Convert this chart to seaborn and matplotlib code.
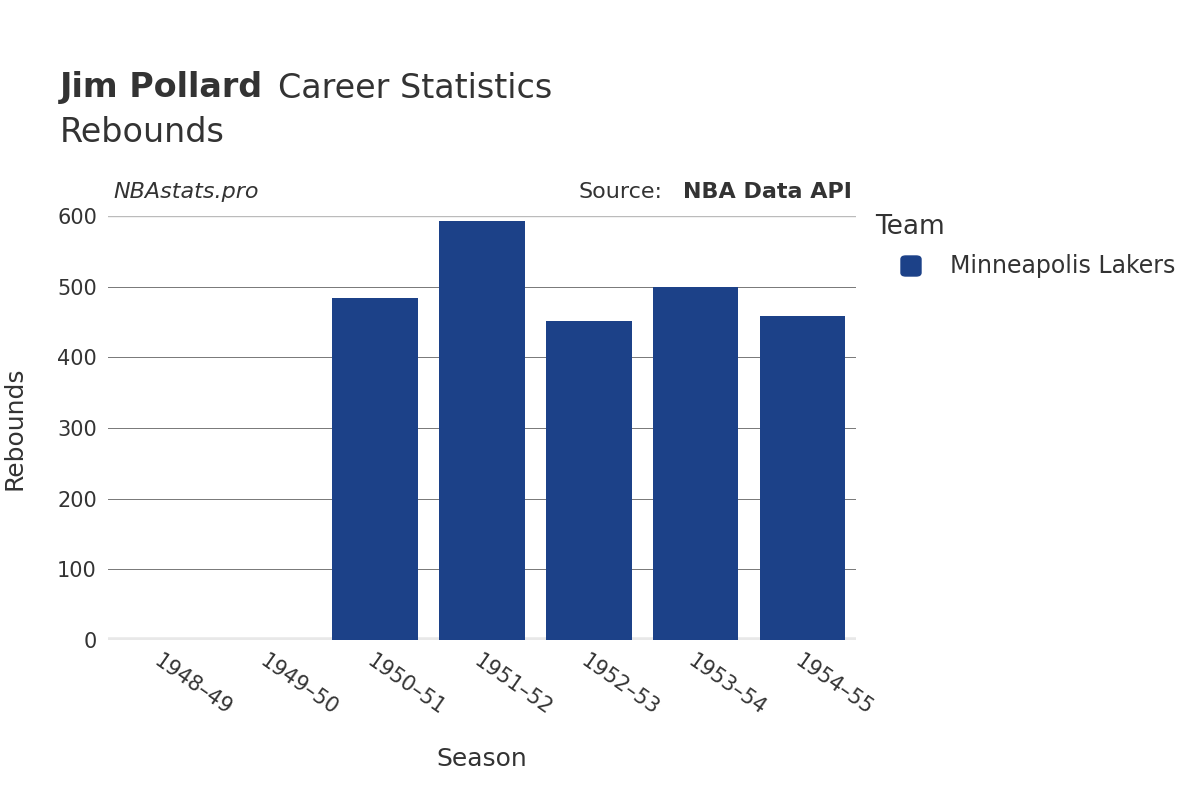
import matplotlib
matplotlib.use("Agg")
import matplotlib.pyplot as plt
import seaborn as sns
import pandas as pd

seasons = ["1948–49", "1949–50", "1950–51", "1951–52", "1952–53", "1953–54", "1954–55"]
rebounds = [0, 0, 484, 593, 452, 500, 458]
teams = ["Minneapolis Lakers"] * 7
yticks = [0, 100, 200, 300, 400, 500, 600]

df = pd.DataFrame({"Season": seasons, "Rebounds": rebounds, "Team": teams})

fig = plt.figure(figsize=(12, 8), dpi=100)
ax = fig.add_axes([108/1200, 1-640/800, (856-108)/1200, (640-216)/800])
sns.barplot(data=df, x="Season", y="Rebounds", hue="Team", palette=["#1c4188"],
            width=0.8, ax=ax, legend=False, saturation=1)
ax.set_ylim(0, 600)
ax.set_xlim(-0.5, 6.5)
ax.set_yticks(yticks)
for y in yticks[1:]:
    ax.axhline(y, color="#bbbbbb" if y == 600 else "#777777", lw=1 if y == 600 else 0.7, zorder=0)
ax.axhline(0, color="#e8e8e8", lw=4, zorder=0)
for s in ax.spines.values():
    s.set_visible(False)
ax.tick_params(length=0, labelsize=15, colors="#333333", pad=8)
plt.setp(ax.get_xticklabels(), rotation=-35, ha="left", rotation_mode="anchor")
ax.set_xlabel("Season", fontsize=18, color="#333333", labelpad=20)
ax.set_ylabel("Rebounds", fontsize=18, color="#333333", labelpad=22)

fig.text(60/1200, 1-88/800, "Jim Pollard", fontsize=24, fontweight="bold", color="#333333", va="center")
fig.text(278/1200, 1-88/800, "Career Statistics", fontsize=24, color="#333333", va="center")
fig.text(60/1200, 1-132/800, "Rebounds", fontsize=24, color="#333333", va="center")
fig.text(113/1200, 1-192/800, "NBAstats.pro", fontsize=16, style="italic", color="#333333", va="center")
fig.text(852/1200, 1-192/800, "NBA Data API", fontsize=16, fontweight="bold", color="#333333", va="center", ha="right")
fig.text(662/1200, 1-192/800, "Source:", fontsize=16, color="#333333", va="center", ha="right")
fig.text(875/1200, 1-227/800, "Team", fontsize=19, color="#333333", va="center")
fig.patches.append(matplotlib.patches.FancyBboxPatch((901/1200, 1-276/800), 20/1200, 20/800,
    boxstyle="round,pad=0,rounding_size=0.004", transform=fig.transFigure, color="#1c4188"))
fig.text(950/1200, 1-266/800, "Minneapolis Lakers", fontsize=17, color="#333333", va="center")
fig.savefig("out.png")
